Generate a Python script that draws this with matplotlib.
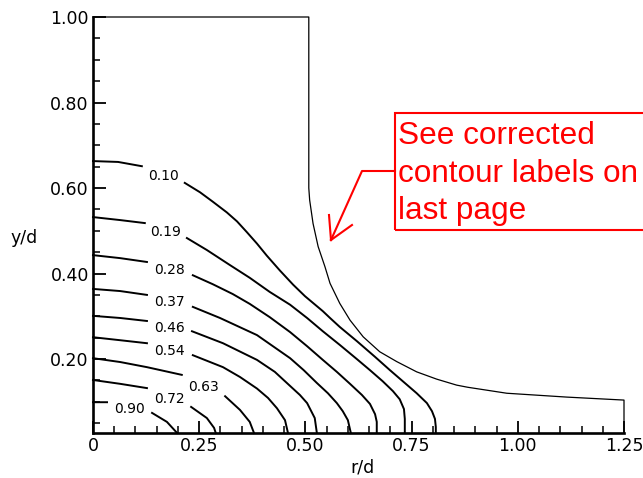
import numpy as np
import matplotlib
matplotlib.use('Agg')
import matplotlib.pyplot as plt
from matplotlib.lines import Line2D
from matplotlib.patches import Rectangle

nan = np.nan

# contour levels as printed on the figure
level_labels = ['0.10', '0.19', '0.28', '0.37', '0.46', '0.54', '0.63', '0.72', '0.90']

# contour lines (r/d, y/d); nan marks the gap where the label sits
r_010 = [0.000, 0.059, 0.115, nan, 0.216, 0.252, 0.282, 0.315, 0.339, 0.362, 0.386, 0.409,
         0.440, 0.471, 0.499, 0.541, 0.558, 0.581, 0.621, 0.664, 0.699, 0.734, 0.762, 0.786,
         0.798, 0.805, 0.807, 0.807]
y_010 = [0.663, 0.661, 0.651, nan, 0.612, 0.590, 0.568, 0.543, 0.522, 0.497, 0.470, 0.442,
         0.407, 0.374, 0.347, 0.312, 0.296, 0.275, 0.242, 0.205, 0.174, 0.144, 0.120, 0.097,
         0.078, 0.060, 0.041, 0.027]

r_019 = [0.000, 0.064, 0.122, nan, 0.221, 0.268, 0.322, 0.369, 0.416, 0.464, 0.504, 0.541,
         0.581, 0.621, 0.652, 0.682, 0.706, 0.722, 0.732, 0.734, 0.734]
y_019 = [0.532, 0.525, 0.518, nan, 0.483, 0.455, 0.420, 0.390, 0.357, 0.327, 0.296, 0.265,
         0.233, 0.200, 0.174, 0.148, 0.125, 0.106, 0.083, 0.060, 0.027]

r_028 = [0.000, 0.064, 0.127, nan, 0.235, 0.282, 0.329, 0.369, 0.416, 0.464, 0.504, 0.541,
         0.574, 0.605, 0.633, 0.652, 0.664, 0.668, 0.668]
y_028 = [0.443, 0.436, 0.427, nan, 0.396, 0.375, 0.352, 0.329, 0.298, 0.263, 0.230, 0.198,
         0.170, 0.142, 0.116, 0.095, 0.071, 0.053, 0.027]

r_037 = [0.000, 0.064, 0.127, nan, 0.235, 0.299, 0.386, 0.464, 0.496, 0.527, 0.553, 0.574,
         0.588, 0.600, 0.607]
y_037 = [0.364, 0.359, 0.350, nan, 0.322, 0.296, 0.256, 0.202, 0.174, 0.144, 0.120, 0.097,
         0.078, 0.057, 0.027]

r_046 = [0.000, 0.064, 0.127, nan, 0.233, 0.306, 0.386, 0.428, 0.464, 0.487, 0.504, 0.522, 0.527]
y_046 = [0.301, 0.296, 0.289, nan, 0.265, 0.237, 0.198, 0.170, 0.137, 0.116, 0.097, 0.062, 0.027]

r_054 = [0.000, 0.064, 0.127, nan, 0.235, 0.306, 0.346, 0.386, 0.412, 0.433, 0.452, 0.459]
y_054 = [0.251, 0.244, 0.237, nan, 0.209, 0.181, 0.158, 0.131, 0.109, 0.085, 0.057, 0.027]

r_063 = [0.000, 0.064, 0.127, 0.209, nan, 0.311, 0.346, 0.369, 0.379]
y_063 = [0.202, 0.193, 0.181, 0.163, nan, 0.113, 0.081, 0.053, 0.027]

r_072 = [0.000, 0.064, 0.127, nan, 0.231, 0.268, 0.285, 0.289]
y_072 = [0.151, 0.142, 0.132, nan, 0.088, 0.062, 0.039, 0.027]

r_090 = [0.000, 0.033, nan, 0.139, 0.174, 0.198]
y_090 = [0.099, 0.099, nan, 0.074, 0.053, 0.027]

contour_r = [r_010, r_019, r_028, r_037, r_046, r_054, r_063, r_072, r_090]
contour_y = [y_010, y_019, y_028, y_037, y_046, y_054, y_063, y_072, y_090]

# outer boundary (jet wall / free surface)
r_wall = [0.0, 0.508, 0.508, 0.510, 0.518, 0.530, 0.546, 0.558, 0.581, 0.605, 0.636, 0.675,
          0.715, 0.762, 0.809, 0.856, 0.882, 0.974, 1.115, 1.25, 1.25]
y_wall = [1.0, 1.0, 0.600, 0.572, 0.517, 0.463, 0.416, 0.377, 0.330, 0.291, 0.252, 0.217,
          0.194, 0.170, 0.153, 0.139, 0.134, 0.120, 0.111, 0.104, 0.027]

x_ticks = [0, 0.25, 0.50, 0.75, 1.00, 1.25]
x_ticklabels = ['0', '0.25', '0.50', '0.75', '1.00', '1.25']
y_ticks = [0.20, 0.40, 0.60, 0.80, 1.00]
y_ticklabels = ['0.20', '0.40', '0.60', '0.80', '1.00']

note_lines = ['See corrected', 'contour labels on', 'last page']

W, H = 643, 478
fig = plt.figure(figsize=(W / 100, H / 100), dpi=100)
ax = fig.add_axes([93 / W, 1 - 433 / H, (624 - 93) / W, (433 - 17) / H])


def fpx(x, y):
    # figure pixel (from top-left) -> figure fraction
    return x / W, 1 - y / H


ax.plot(r_wall, y_wall, color='black', lw=0.9, clip_on=False)

for lab, r, y in zip(level_labels, contour_r, contour_y):
    r = np.asarray(r)
    y = np.asarray(y)
    ax.plot(r, y, color='black', lw=1.4, clip_on=False)
    i = int(np.where(np.isnan(r))[0][0])
    ax.text((r[i - 1] + r[i + 1]) / 2, (y[i - 1] + y[i + 1]) / 2, lab,
            ha='center', va='center_baseline', fontsize=10)

ax.set_xlim(0, 1.25)
ax.set_ylim(0.027, 1.0)
ax.set_xticks(x_ticks)
ax.set_xticklabels(x_ticklabels)
ax.set_yticks(y_ticks)
ax.set_yticklabels(y_ticklabels)
ax.set_xticks(np.arange(0, 1.26, 0.05), minor=True)
ax.set_yticks(np.arange(0.05, 1.0, 0.05), minor=True)
ax.tick_params(which='major', direction='in', length=9, width=1.3, labelsize=12.5, pad=3)
ax.tick_params(which='minor', direction='in', length=5, width=1.1)
ax.spines['top'].set_visible(False)
ax.spines['right'].set_visible(False)
ax.spines['left'].set_linewidth(1.9)
ax.spines['bottom'].set_linewidth(1.9)

fig.text(*fpx(24, 238), 'y/d', ha='center', va='center', fontsize=12.5)
fig.text(*fpx(362, 467), 'r/d', ha='center', va='center', fontsize=12.5)

# red note box with arrow
red = '#ff0000'
bx0, by0 = fpx(395, 230)
bx1, by1 = fpx(700, 113)
fig.add_artist(Rectangle((bx0, by0), bx1 - bx0, by1 - by0, transform=fig.transFigure,
                         fill=False, edgecolor=red, lw=1.5))
for k, line in enumerate(note_lines):
    fig.text(*fpx(398.5, 144 + 37.5 * k), line, color=red, fontsize=22.7,
             family='Liberation Sans', ha='left', va='baseline')

shaft = [fpx(395, 171), fpx(362, 171), fpx(331, 240)]
fig.add_artist(Line2D([p[0] for p in shaft], [p[1] for p in shaft],
                      transform=fig.transFigure, color=red, lw=1.5))
for end in [(329, 215), (352, 225)]:
    a, b = fpx(331, 240), fpx(*end)
    fig.add_artist(Line2D([a[0], b[0]], [a[1], b[1]], transform=fig.transFigure,
                          color=red, lw=1.5))

fig.savefig('out.png', dpi=100)
